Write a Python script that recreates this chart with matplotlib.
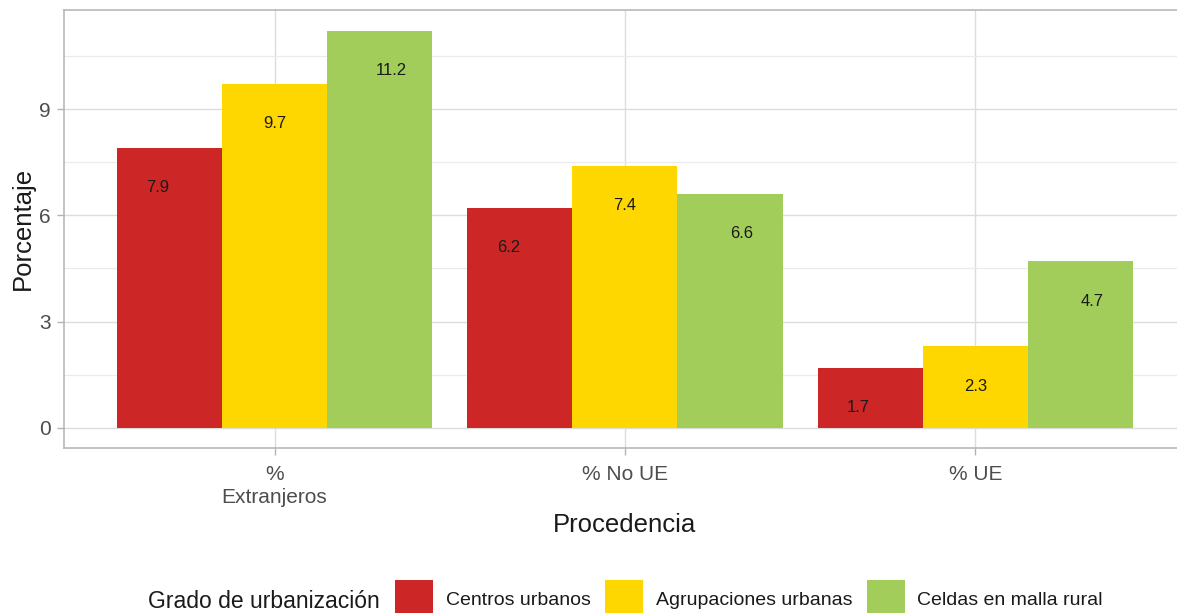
import matplotlib
matplotlib.use("Agg")
import matplotlib.pyplot as plt
import numpy as np
from matplotlib.ticker import MultipleLocator

categories = ["%\nExtranjeros", "% No UE", "% UE"]
series_names = ["Centros urbanos", "Agrupaciones urbanas", "Celdas en malla rural"]
centros = [7.9, 6.2, 1.7]
agrupaciones = [9.7, 7.4, 2.3]
celdas = [11.2, 6.6, 4.7]
colors = ["#CD2626", "#FFD700", "#A2CD5A"]

plt.rcParams['font.family'] = ['Liberation Sans', 'DejaVu Sans']

W, H = 1177, 613
fig = plt.figure(figsize=(W / 100, H / 100), dpi=100)
left_px, right_px, top_px, bot_px = 64.3, 1185.5, 10, 447.5
ax = fig.add_axes([left_px / W, 1 - bot_px / H, (right_px - left_px) / W, (bot_px - top_px) / H])

x = np.arange(len(categories)) + 1
bw = 0.3
series = [centros, agrupaciones, celdas]
handles = []
for i, (vals, col, name) in enumerate(zip(series, colors, series_names)):
    off = (i - 1) * bw
    b = ax.bar(x + off, vals, width=bw, color=col, label=name, zorder=3, linewidth=0)
    handles.append(b)
    for xi, v in zip(x, vals):
        ax.text(xi + (i - 1) * 0.333, v - 1.12, f"{v:.1f}", ha="center", va="center",
                fontsize=12, color="#1a1a1a", zorder=4)

ax.set_xlim(0.4, 3.6)
ax.set_ylim(-0.555, 11.795)
ax.set_xticks(x)
ax.set_xticklabels(categories, linespacing=1.3)
ax.yaxis.set_major_locator(MultipleLocator(3))
ax.yaxis.set_minor_locator(MultipleLocator(1.5))

ax.grid(which="major", color="#DCDCDC", linewidth=1.0, zorder=0)
ax.grid(which="minor", axis="y", color="#EBEBEB", linewidth=0.9, zorder=0)
ax.set_axisbelow(True)
for s in ax.spines.values():
    s.set_color("#B3B3B3")
    s.set_linewidth(1.1)
ax.tick_params(axis="both", which="major", colors="#B3B3B3", length=5, width=1.0,
               labelcolor="#4D4D4D", labelsize=15)
ax.tick_params(axis="x", which="major", pad=7.5)
ax.tick_params(axis="y", which="major", pad=5)
ax.tick_params(axis="both", which="minor", length=0)

ax.set_xlabel("Procedencia", fontsize=18.5, color="#1a1a1a", labelpad=3.7)
ax.set_ylabel("Porcentaje", fontsize=18.5, color="#1a1a1a", labelpad=3)

fig.text(148 / W, 1 - 601 / H, "Grado de urbanización", fontsize=16.5, color="#1a1a1a",
         ha="left", va="center")
leg = fig.legend(handles=handles, labels=series_names, loc="center left",
                 bbox_to_anchor=(395 / W, 1 - 599 / H), ncol=3, frameon=False,
                 fontsize=14, handlelength=1.95, handleheight=2.6,
                 handletextpad=0.65, columnspacing=0.75, borderpad=0, borderaxespad=0)
for t in leg.get_texts():
    t.set_color("#1a1a1a")

fig.savefig("out.png", dpi=100)
